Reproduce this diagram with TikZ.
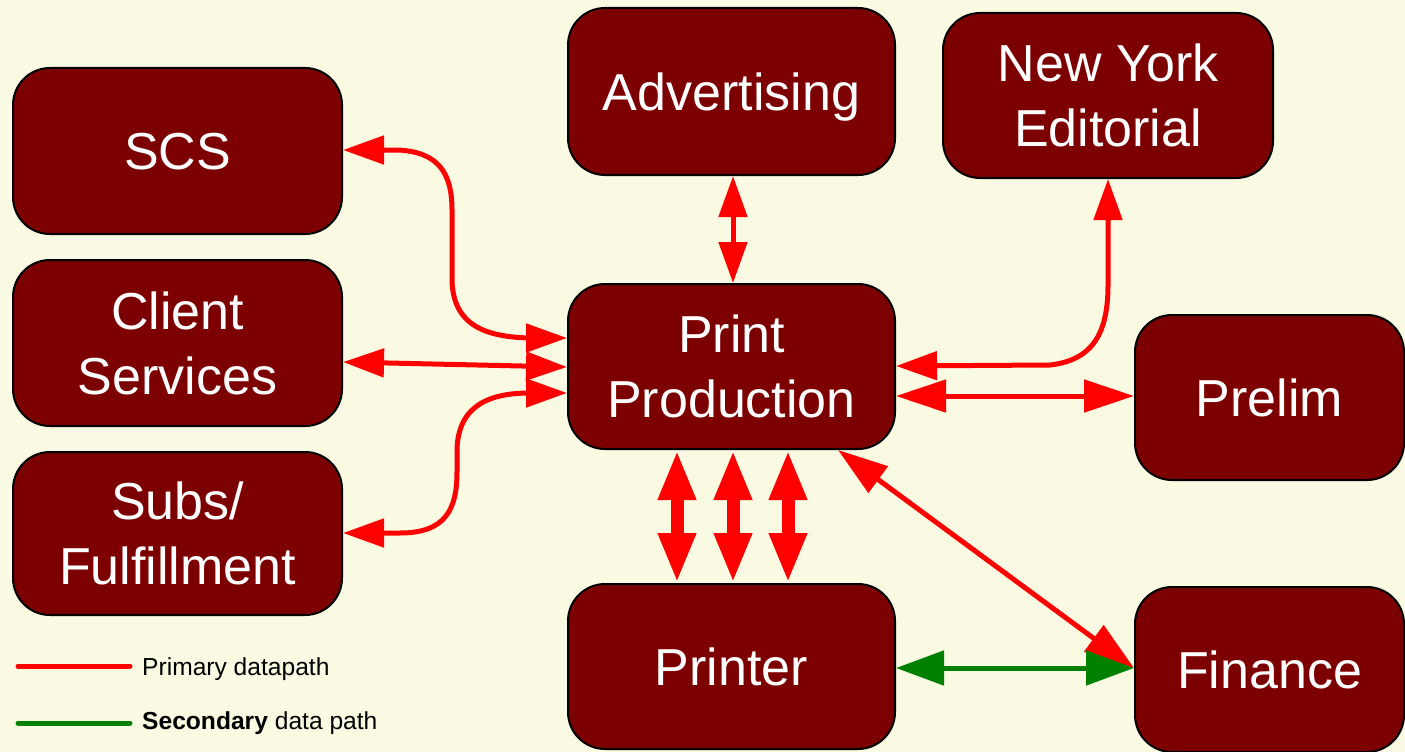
\documentclass[tikz,border=0pt]{standalone}
\usepackage{fontspec}
\setmainfont{Liberation Sans}
\usetikzlibrary{arrows.meta}
\definecolor{bgc}{RGB}{250,250,227}
\definecolor{boxc}{RGB}{125,0,0}
\definecolor{pric}{RGB}{255,0,0}
\definecolor{secc}{RGB}{0,128,0}
\begin{document}
\begin{tikzpicture}[x=1pt,y=-1pt,
  unit/.style={draw=black, line width=2pt, fill=boxc, rounded corners=37pt,
    text=white, font=\fontsize{52}{65}\selectfont, align=center, inner sep=0pt,
    minimum width=327pt, minimum height=165pt},
  oneline/.style={text height=37pt, text depth=0pt},
  prim/.style={draw=pric, line width=5pt, line join=round,
    arrows={Triangle[length=41pt,width=28pt]-Triangle[length=41pt,width=28pt]}},
  primbig/.style={draw=pric, line width=5pt,
    arrows={Triangle[length=50pt,width=32pt]-Triangle[length=50pt,width=32pt]}},
  primthick/.style={draw=pric, line width=13pt,
    arrows={Triangle[length=50pt,width=35pt]-Triangle[length=50pt,width=35pt]}},
  secl/.style={draw=secc, line width=5pt,
    arrows={Triangle[length=48pt,width=34pt]-Triangle[length=48pt,width=34pt]}},
  legline/.style={line width=5pt, line cap=round},
  legtext/.style={anchor=base west, inner sep=0pt, font=\fontsize{24.6}{28}\selectfont, text=black}
]
\fill[bgc] (0,0) rectangle (1405,752);
\useasboundingbox (0,0) rectangle (1405,752);

\node[unit, oneline, minimum width=329pt, minimum height=166pt] (scs) at (177.5,151) {SCS};
\node[unit, minimum width=329pt, minimum height=166pt] (client) at (177.5,343) {Client\\Services};
\node[unit, minimum width=329pt, minimum height=163pt] (subs) at (177.5,533.5) {Subs/\\Fulfillment};
\node[unit, oneline, minimum height=167pt] (adv) at (731.5,91.5) {Advertising};
\node[unit, minimum width=330pt] (ny) at (1108,95.5) {New York\\Editorial};
\node[unit] (pp) at (731.5,366.5) {Print\\Production};
\node[unit, oneline, minimum width=269pt] (prelim) at (1269.5,397.5) {Prelim};
\node[unit, oneline] (printer) at (731.5,666.5) {Printer};
\node[unit, oneline, minimum width=269pt] (finance) at (1269.5,669.5) {Finance};

% primary connectors
\draw[prim] (scs.east |- 0,150) -- (398,150) .. controls (440,152) and (452,175) .. (452,210)
  -- (452,280) .. controls (453,325) and (485,337) .. (530,338) -- (pp.west |- 0,338);
\draw[prim] (client.east |- 0,362) -- (pp.west |- 0,367);
\draw[prim] (subs.east |- 0,533) -- (400,533) .. controls (445,533) and (457,510) .. (457,472)
  -- (457,450) .. controls (458,405) and (490,393) .. (530,393) -- (pp.west |- 0,393);
\draw[prim] (adv.south -| 733,0) -- (pp.north -| 733,0);
\draw[prim] (pp.east |- 0,366) -- (1050,365) .. controls (1095,360) and (1108,330) .. (1108,285) -- (ny.south);
\draw[primbig] (pp.east |- 0,396) -- (prelim.west |- 0,396);
\draw[primthick] (pp.south -| 677,0) -- (printer.north -| 677,0);
\draw[primthick] (pp.south -| 733,0) -- (printer.north -| 733,0);
\draw[primthick] (pp.south -| 788,0) -- (printer.north -| 788,0);
\draw[primbig] (pp.south -| 838,0) -- (finance.west |- 0,668);
% secondary
\draw[secl] (printer.east |- 0,668) -- (finance.west |- 0,668);

% legend
\coordinate (l1a) at (18,666);
\coordinate (l1b) at (130,666);
\coordinate (l2a) at (18,723);
\coordinate (l2b) at (130,723);
\draw[legline, draw=pric] (l1a) -- (l1b);
\draw[legline, draw=secc] (l2a) -- (l2b);
\node[legtext] (lt1) at (142,675) {Primary datapath};
\node[legtext] (lt2) at (142,729) {\textbf{Secondary} data path};
\end{tikzpicture}
\end{document}
